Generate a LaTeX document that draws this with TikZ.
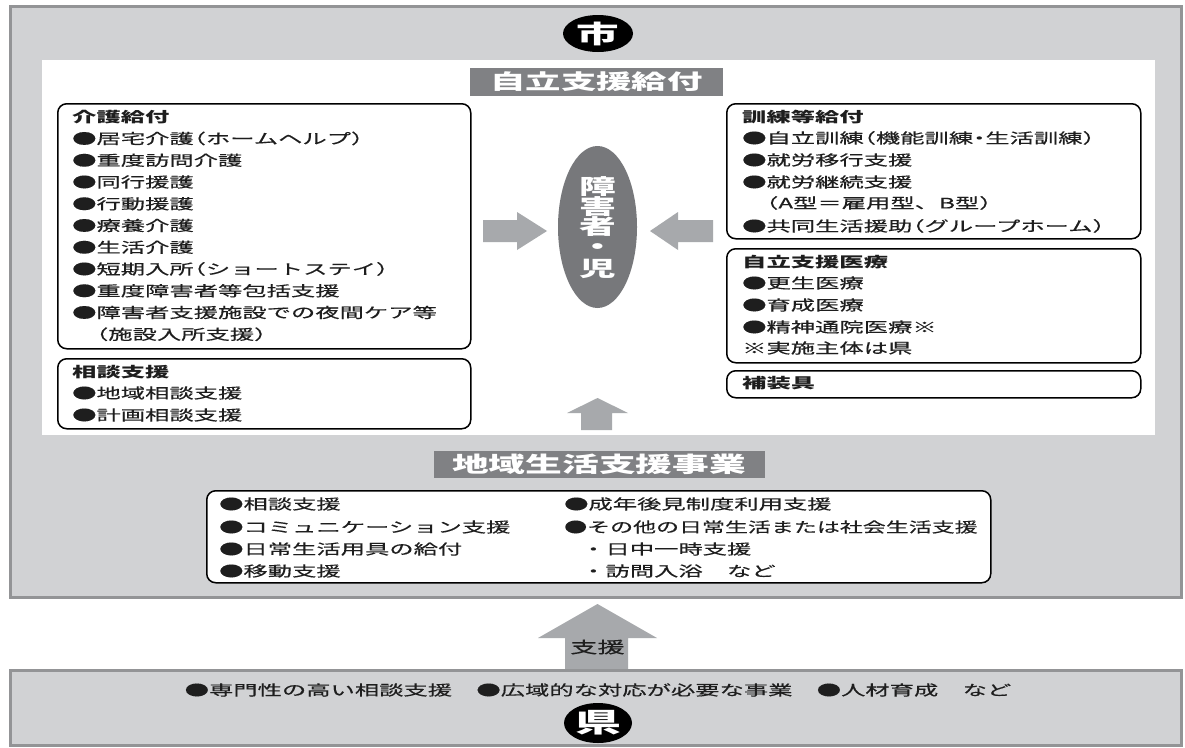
\documentclass[tikz,border=0pt]{standalone}
\usepackage{fontspec}
\usepackage{graphicx}
\usetikzlibrary{shapes.geometric}
\newfontfamily\jp{Noto Sans CJK JP}[FakeStretch=1.7, FakeBold=0.4]
\newfontfamily\jpt{Noto Sans CJK JP}[FakeStretch=1.7]
\newfontfamily\jpw{Noto Sans CJK JP}[FakeStretch=1.75]
\definecolor{panelfill}{HTML}{D1D2D4}
\definecolor{panelline}{HTML}{939496}
\definecolor{tagfill}{HTML}{808184}
\definecolor{ovalfill}{HTML}{77787B}
\definecolor{arrowfill}{HTML}{A7A9AC}
\definecolor{ink}{HTML}{1E1E1E}
% half-width brackets and middle dot
\newcommand\lp{\setbox0\hbox{（}\kern-.5\wd0\box0}
\newcommand\rp{\setbox0\hbox{）}\copy0\kern-.5\wd0}
\newcommand\nk{\setbox0\hbox{・}\kern-.25\wd0\copy0\kern-.25\wd0}
\newcommand\bodyfont{\jp\fontsize{14.3}{16}\selectfont}
\newcommand\headfont{\jpt\bfseries\fontsize{14.3}{16}\selectfont}
\tikzset{
  panel/.style={draw=panelline, line width=3pt, fill=panelfill},
  listbox/.style={draw=black, line width=1.5pt, rounded corners=9pt, fill=white, anchor=north west, inner sep=0},
  body/.style={anchor=base west, inner sep=0, text=ink, font=\bodyfont},
  heading/.style={body, font=\headfont},
  tag/.style={fill=tagfill, text=white, inner sep=0},
  blockarrow/.style={fill=arrowfill},
  badge/.style={ellipse, fill=black, text=white, inner sep=0},
}
\begin{document}
\begin{tikzpicture}[x=1pt,y=-1pt]
\useasboundingbox (0,0) rectangle (1185,747);
\fill[white] (0,0) rectangle (1185,747);

% city panel
\draw[panel] (10,6) rectangle (1181,597);
\fill[white] (42,60) rectangle (1155,435);
\node[badge, minimum width=70pt, minimum height=37pt, font=\jpt\bfseries\fontsize{25}{25}\selectfont] (city) at (598,33.5) {市};

% support arrow from the prefecture (drawn under the prefecture panel)
\fill[blockarrow] (565,672) -- (565,638) -- (538,638) -- (597.5,604) -- (657,638) -- (628,638) -- (628,672) -- cycle;
\node[font=\jp\fontsize{16}{16}\selectfont, text=ink, inner sep=0] (shien) at (597.5,647) {支援};

% prefecture panel
\draw[panel] (10,670) rectangle (1181,745);
\node[anchor=base, inner sep=0, text=ink, font=\bodyfont] (kenitems) at (598,695.4) {●専門性の高い相談支援　●広域的な対応が必要な事業　●人材育成　など};
\node[badge, minimum width=68pt, minimum height=40pt, font=\jpt\bfseries\fontsize{27}{27}\selectfont] (ken) at (598,723) {県};

% title of the benefits area
\node[tag, minimum width=253pt, minimum height=28pt, font=\jpt\bfseries\fontsize{20.8}{21}\selectfont] (jiritsu) at (596.5,82) {自立支援給付};

% person in the centre
\node[ellipse, fill=ovalfill, minimum width=79pt, minimum height=162pt, inner sep=0] (person) at (597.5,227) {};
\foreach \y/\c [count=\i] in {187/障, 207/害, 227/者, 249/・, 269/児}
  \node[text=white, inner sep=0, font=\jpw\bfseries\fontsize{21}{21}\selectfont] (p\i) at (597.5,\y) {\c};

% arrows toward the person
\fill[blockarrow] (483,220) -- (517,220) -- (517,212) -- (547,231) -- (517,250) -- (517,242) -- (483,242) -- cycle;
\fill[blockarrow] (713,220) -- (678,220) -- (678,212) -- (650,231) -- (678,250) -- (678,242) -- (713,242) -- cycle;
\fill[blockarrow] (581,430) -- (581,413) -- (567,413) -- (597.5,398) -- (628,413) -- (612,413) -- (612,430) -- cycle;

% care benefits
\node[listbox, minimum width=413pt, minimum height=245pt] (kaigo) at (57,103) {};
\node[heading] (kaigo0) at (72,122.4) {介護給付};
\foreach \y/\t [count=\i] in {
  138.5/●居宅介護\lp ホームヘルプ\rp,
  160.3/●重度訪問介護,
  182/●同行援護,
  203.8/●行動援護,
  225.5/●療養介護,
  247.3/●生活介護,
  269/●短期入所\lp ショートステイ\rp,
  290.8/●重度障害者等包括支援,
  312.5/●障害者支援施設での夜間ケア等}
  \node[body] (kaigo\i) at (72,{\y+5.4}) {\t};
\node[body] (kaigo10) at (96,339.7) {\lp 施設入所支援\rp};

% consultation support
\node[listbox, minimum width=413pt, minimum height=70pt] (soudan) at (57,358) {};
\node[heading] (soudan0) at (72,377.4) {相談支援};
\node[body] (soudan1) at (72,398.4) {●地域相談支援};
\node[body] (soudan2) at (72,420.4) {●計画相談支援};

% training benefits
\node[listbox, minimum width=414pt, minimum height=135pt] (kunren) at (726,103) {};
\node[heading] (kunren0) at (742,122.4) {訓練等給付};
\node[body] (kunren1) at (742,143.4) {●自立訓練\lp 機能訓練\nk 生活訓練\rp};
\node[body] (kunren2) at (742,165.4) {●就労移行支援};
\node[body] (kunren3) at (742,187.4) {●就労継続支援};
\node[body] (kunren4) at (766,208.4) {\lp A型＝雇用型、B型\rp};
\node[body] (kunren5) at (742,231.4) {●共同生活援助\lp グループホーム\rp};

% medical care
\node[listbox, minimum width=414pt, minimum height=114pt] (iryou) at (726,248) {};
\node[heading] (iryou0) at (742,267.4) {自立支援医療};
\node[body] (iryou1) at (742,288.4) {●更生医療};
\node[body] (iryou2) at (742,310.4) {●育成医療};
\node[body] (iryou3) at (742,332.4) {●精神通院医療※};
\node[body] (iryou4) at (742,353.4) {※実施主体は県};

% prosthetic devices
\node[listbox, minimum width=414pt, minimum height=27pt] (hosou) at (726,370) {};
\node[heading] (hosou0) at (742,388.4) {補装具};

% community life support
\node[tag, minimum width=331pt, minimum height=27pt, font=\jpt\bfseries\fontsize{21.6}{22}\selectfont] (chiiki) at (599,464.5) {地域生活支援事業};
\node[listbox, minimum width=784pt, minimum height=92pt] (chiikibox) at (206,490) {};
\node[body] (c1) at (219,509.4) {●相談支援};
\node[body] (c2) at (219,532.4) {●コミュニケーション支援};
\node[body] (c3) at (219,554.4) {●日常生活用具の給付};
\node[body] (c4) at (219,576.4) {●移動支援};
\node[body] (c5) at (564,509.4) {●成年後見制度利用支援};
\node[body] (c6) at (564,532.4) {\scalebox{0.945}[1]{●その他の日常生活または社会生活支援}};
\node[body] (c7) at (581,554.4) {・日中一時支援};
\node[body] (c8) at (581,576.4) {・訪問入浴　など};
\end{tikzpicture}
\end{document}
